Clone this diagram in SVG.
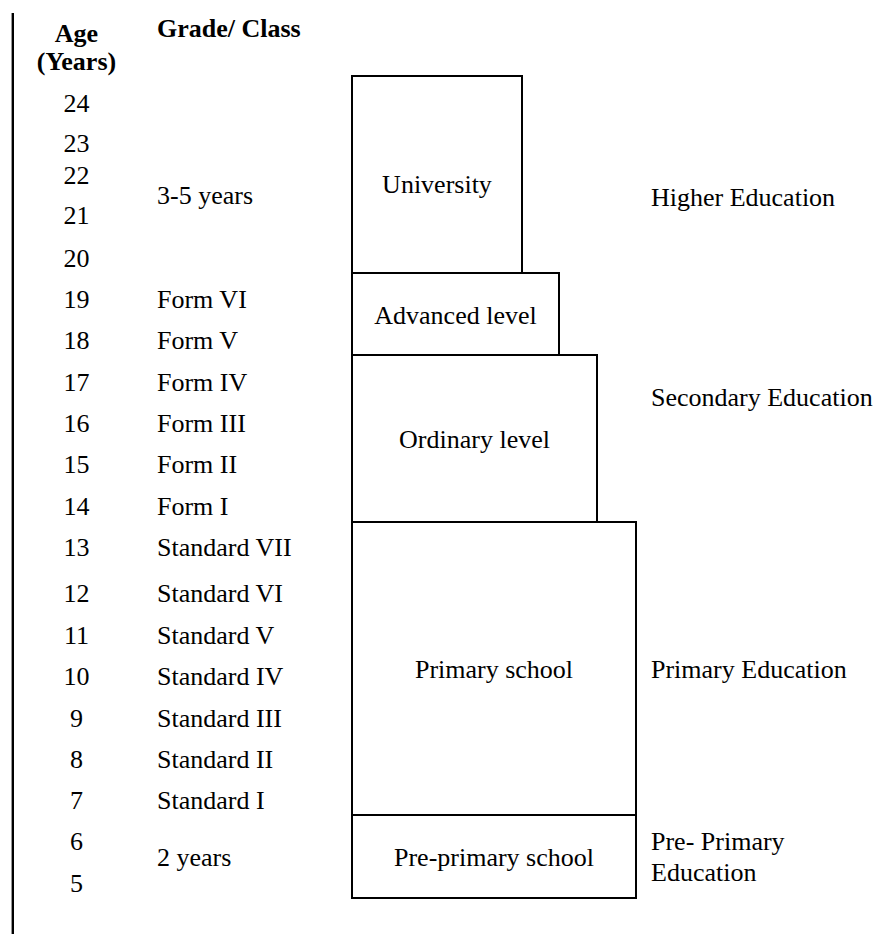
<svg xmlns="http://www.w3.org/2000/svg" width="895" height="934" viewBox="0 0 895 934">
<style>
text{font-family:"Liberation Serif","Times New Roman",serif;font-size:26px;fill:#000}
.b{font-weight:bold}
.c{text-anchor:middle}
.box{fill:#fff;stroke:#000;stroke-width:2}
</style>
<rect width="895" height="934" fill="#fff"/>
<line x1="12.8" y1="13" x2="12.8" y2="934" stroke="#000" stroke-width="2.4"/>
<g id="headers">
<text class="b c" x="76.5" y="41.5">Age</text>
<text class="b c" x="76.5" y="70">(Years)</text>
<text class="b" x="157" y="37.3">Grade/ Class</text>
</g>
<g id="ages" class="c">
<text class="c" x="76.5" y="111.5">24</text>
<text class="c" x="76.5" y="152">23</text>
<text class="c" x="76.5" y="183.5">22</text>
<text class="c" x="76.5" y="224">21</text>
<text class="c" x="76.5" y="266.5">20</text>
<text class="c" x="76.5" y="308">19</text>
<text class="c" x="76.5" y="349">18</text>
<text class="c" x="76.5" y="390.5">17</text>
<text class="c" x="76.5" y="432">16</text>
<text class="c" x="76.5" y="473">15</text>
<text class="c" x="76.5" y="514.5">14</text>
<text class="c" x="76.5" y="556">13</text>
<text class="c" x="76.5" y="601.5">12</text>
<text class="c" x="76.5" y="644">11</text>
<text class="c" x="76.5" y="685">10</text>
<text class="c" x="76.5" y="726.5">9</text>
<text class="c" x="76.5" y="768">8</text>
<text class="c" x="76.5" y="809">7</text>
<text class="c" x="76.5" y="850">6</text>
<text class="c" x="76.5" y="891.5">5</text>
</g>
<g id="grades">
<text x="157" y="204">3-5 years</text>
<text x="157" y="308">Form VI</text>
<text x="157" y="349">Form V</text>
<text x="157" y="390.5">Form IV</text>
<text x="157" y="432">Form III</text>
<text x="157" y="473">Form II</text>
<text x="157" y="514.5">Form I</text>
<text x="157" y="556">Standard VII</text>
<text x="157" y="601.5">Standard VI</text>
<text x="157" y="644">Standard V</text>
<text x="157" y="685">Standard IV</text>
<text x="157" y="726.5">Standard III</text>
<text x="157" y="768">Standard II</text>
<text x="157" y="809">Standard I</text>
<text x="157" y="866">2 years</text>
</g>
<g id="university">
<rect class="box" x="352" y="76" width="170" height="197"/>
<text class="c" x="437" y="193">University</text>
</g>
<g id="advanced-level">
<rect class="box" x="352" y="273" width="207" height="82"/>
<text class="c" x="455.5" y="323.5">Advanced level</text>
</g>
<g id="ordinary-level">
<rect class="box" x="352" y="355" width="245" height="167"/>
<text class="c" x="474.5" y="448">Ordinary level</text>
</g>
<g id="primary-school">
<rect class="box" x="352" y="522" width="284" height="293"/>
<text class="c" x="494" y="677.5">Primary school</text>
</g>
<g id="pre-primary-school">
<rect class="box" x="352" y="815" width="284" height="83"/>
<text class="c" x="494" y="866">Pre-primary school</text>
</g>
<g id="levels">
<text x="651" y="205.5">Higher Education</text>
<text x="651" y="406">Secondary Education</text>
<text x="651" y="677.5">Primary Education</text>
<text x="651" y="850">Pre- Primary</text>
<text x="651" y="881">Education</text>
</g>
</svg>
